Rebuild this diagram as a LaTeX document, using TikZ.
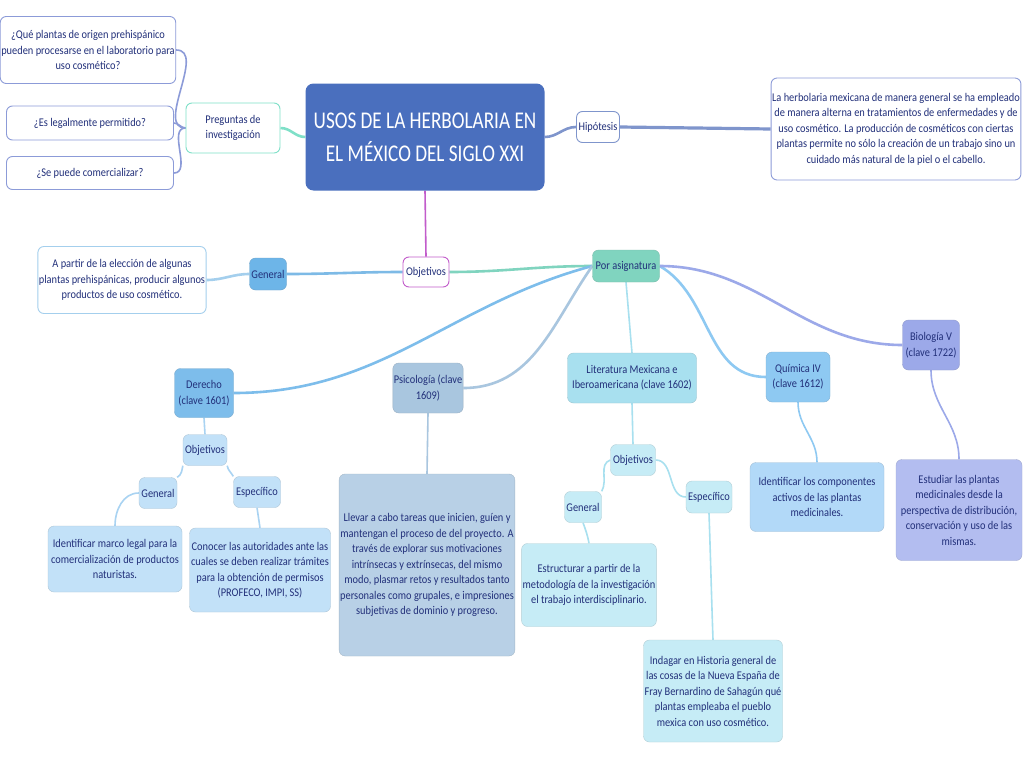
\documentclass[tikz,border=0pt]{standalone}
\usepackage{fontspec}
\setmainfont[FakeStretch=0.88]{Carlito}
\newfontfamily\titlefont[FakeStretch=0.8]{Carlito}
\usetikzlibrary{backgrounds}
\definecolor{ink}{HTML}{22307A}
\definecolor{titblue}{HTML}{4A6FBE}
\definecolor{tealline}{HTML}{7FE0C8}
\definecolor{qline}{HTML}{8C9BD8}
\definecolor{hipline}{HTML}{7F95CC}
\definecolor{magline}{HTML}{C25CCB}
\definecolor{genfill}{HTML}{6DB5E8}
\definecolor{genline}{HTML}{7DBAE6}
\definecolor{asigfill}{HTML}{80D4BF}
\definecolor{derfill}{HTML}{7DBDEB}
\definecolor{derlight}{HTML}{C2E1F8}
\definecolor{derline}{HTML}{A9D3F2}
\definecolor{psifill}{HTML}{A9C6DF}
\definecolor{psilight}{HTML}{B8D0E6}
\definecolor{litfill}{HTML}{A8E0EF}
\definecolor{litlight}{HTML}{C6ECF6}
\definecolor{quifill}{HTML}{8EC9F2}
\definecolor{quilight}{HTML}{B2D9F8}
\definecolor{biofill}{HTML}{9CA9E9}
\definecolor{biolight}{HTML}{B3BDF0}
\begin{document}
\begin{tikzpicture}[x=1pt,y=-1pt, font=\fontsize{11.8}{15.5}\selectfont, line join=round, line cap=round,
    box/.style={rounded corners=6pt, align=center, text=ink, inner sep=1pt},
    wbox/.style={box, fill=white, draw=#1, line width=0.9pt},
    cbox/.style={box, fill=#1, draw=#1!85!black!90, line width=0.4pt},
    sz/.style 2 args={minimum width=#1, minimum height=#2},
    branch/.style={draw=#1, line width=2.6pt},
    twig/.style={draw=#1, line width=1.6pt}]
	\useasboundingbox (0,0) rectangle (1024,768);
	% centro
	\node[box, fill=titblue, text=white, rounded corners=8pt, sz={239}{107}, font=\titlefont\fontsize{24}{33}\selectfont] (tit) at (425,137) {USOS DE LA HERBOLARIA EN\\EL MÉXICO DEL SIGLO XXI};
	% preguntas
	\node[wbox=tealline, sz={94}{50}] (preg) at (233,128) {Preguntas de\\investigación};
	\node[wbox=qline, sz={170}{67}] (q1) at (88,50) {¿Qué plantas de origen prehispánico\\pueden procesarse en el laboratorio para\\uso cosmético?};
	\node[wbox=qline, sz={167}{34}] (q2) at (90,123) {¿Es legalmente permitido?};
	\node[wbox=qline, sz={167}{33}] (q3) at (90,173) {¿Se puede comercializar?};
	% hipotesis
	\node[wbox=hipline, sz={43}{31}] (hip) at (598,127) {Hipótesis};
	\node[wbox=qline, sz={247}{102}] (hiptx) at (896,129) {La herbolaria mexicana de manera general se ha empleado\\de manera alterna en tratamientos de enfermedades y de\\uso cosmético. La producción de cosméticos con ciertas\\plantas permite no sólo la creación de un trabajo sino un\\cuidado más natural de la piel o el cabello.};
	% objetivos
	\node[wbox=magline, sz={46}{30}] (obj) at (426,272) {Objetivos};
	\node[cbox=genfill, sz={37}{32}] (gen) at (268,274) {General};
	\node[wbox=genline!70, sz={165}{67}] (gentx) at (122,280) {A partir de la elección de algunas\\plantas prehispánicas, producir algunos\\productos de uso cosmético.};
	\node[cbox=asigfill, sz={67}{32}] (asig) at (626,266) {Por asignatura};
	% derecho
	\node[cbox=derfill, sz={59}{49}] (der) at (204,393) {Derecho\\(clave 1601)};
	\node[cbox=derlight, sz={44}{31}] (derobj) at (205,450) {Objetivos};
	\node[cbox=derlight, sz={38}{31}] (dergen) at (158,493) {General};
	\node[cbox=derlight, sz={47}{31}] (deresp) at (257,492) {Específico};
	\node[cbox=derlight, sz={134}{66}] (dergentx) at (115,559) {Identificar marco legal para la\\comercialización de productos\\naturistas.};
	\node[cbox=derlight, sz={141}{84}] (derespx) at (260,570) {Conocer las autoridades ante las\\cuales se deben realizar trámites\\para la obtención de permisos\\(PROFECO, IMPI, SS)};
	% psicologia
	\node[cbox=psifill, sz={69}{50}] (psi) at (428,388) {Psicología (clave\\1609)};
	\node[cbox=psilight, sz={170}{182}] (psitx) at (427,565) {Llevar a cabo tareas que inicien, guíen y\\mantengan el proceso de del proyecto. A\\través de explorar sus motivaciones\\intrínsecas y extrínsecas, del mismo\\modo, plasmar retos y resultados tanto\\personales como grupales, e impresiones\\subjetivas de dominio y progreso.};
	% literatura
	\node[cbox=litfill, sz={129}{50}] (lit) at (632,378) {Literatura Mexicana e\\Iberoamericana (clave 1602)};
	\node[cbox=litlight, sz={45}{31}] (litobj) at (633,460) {Objetivos};
	\node[cbox=litlight, sz={37}{31}] (litgen) at (583,507) {General};
	\node[cbox=litlight, sz={46}{32}] (litesp) at (709,497) {Específico};
	\node[cbox=litlight, sz={134}{83}] (litgentx) at (589,585) {Estructurar a partir de la\\metodología de la investigación\\el trabajo interdisciplinario.};
	\node[cbox=litlight, sz={139}{102}] (litespx) at (713,691) {Indagar en Historia general de\\las cosas de la Nueva España de\\Fray Bernardino de Sahagún qué\\plantas empleaba el pueblo\\mexica con uso cosmético.};
	% quimica y biologia
	\node[cbox=quifill, sz={64}{50}] (qui) at (798,377) {Química IV\\(clave 1612)};
	\node[cbox=quilight, sz={134}{69}] (quitx) at (817,497) {Identificar los componentes\\activos de las plantas\\medicinales.};
	\node[cbox=biofill, sz={57}{50}] (bio) at (931,345) {Biología V\\(clave 1722)};
	\node[cbox=biolight, sz={126}{101}] (biotx) at (959,510) {Estudiar las plantas\\medicinales desde la\\perspectiva de distribución,\\conservación y uso de las\\mismas.};
	\begin{scope}[on background layer]
		\fill[white] (0,0) rectangle (1024,768);
		\path[branch=tealline] (tit.west) to[out=180,in=0] (preg.east);
		\path[twig=qline] (preg.west) to[out=180,in=0] (q1.east);
		\path[twig=qline] (preg.west) to[out=180,in=0] (q2.east);
		\path[twig=qline] (preg.west) to[out=180,in=0] (q3.east);
		\path[branch=hipline] (tit.east) to[out=0,in=180] (hip.west);
		\path[branch=hipline, line width=3.2pt] (hip.east) -- (hiptx.west);
		\path[twig=magline] (tit.south) -- (obj.north);
		\path[branch=genline] (obj.west) to[out=180,in=0] (gen.east);
		\path[branch=genline!70] (gen.west) to[out=180,in=0] (gentx.east);
		\path[branch=asigfill] (obj.east) to[out=0,in=180] (asig.west);
		\path[branch=derfill] (der.east) to[out=0,in=195] (asig.west);
		\path[branch=psifill] (psi.east) to[out=0,in=235] (asig.west);
		\path[twig=litfill] (asig.south) to[out=-85,in=95] (lit.north);
		\path[branch=quifill] (asig.east) to[out=-30,in=180] (qui.west);
		\path[branch=biofill] (asig.east) to[out=0,in=180] (bio.west);
		% ramas de derecho
		\path[twig=derline] (der.south) -- (derobj.north);
		\path[twig=derline] (derobj.south west) to[out=-100,in=30] (dergen.north east);
		\path[twig=derline] (derobj.south east) to[out=-80,in=120] (deresp.north west);
		\path[twig=derline] (dergen.west) to[out=180,in=90] (dergentx.north);
		\path[twig=derline] (deresp.south) -- (derespx.north);
		\path[twig=psifill] (psi.south) -- (psitx.north);
		% ramas de literatura
		\path[twig=litfill] (lit.south) -- (litobj.north);
		\path[twig=litfill] (litobj.west) to[out=200,in=60] (litgen.north east);
		\path[twig=litfill] (litobj.east) to[out=0,in=180] (litesp.west);
		\path[twig=litfill] (litgen.south) to[out=-70,in=100] (litgentx.north);
		\path[twig=litfill] (litesp.south) to[out=-88,in=92] (litespx.north);
		\path[twig=quifill] (qui.south) to[out=-90,in=90] (quitx.north);
		\path[twig=biofill] (bio.south) to[out=-90,in=90] (biotx.north);
	\end{scope}
\end{tikzpicture}
\end{document}
